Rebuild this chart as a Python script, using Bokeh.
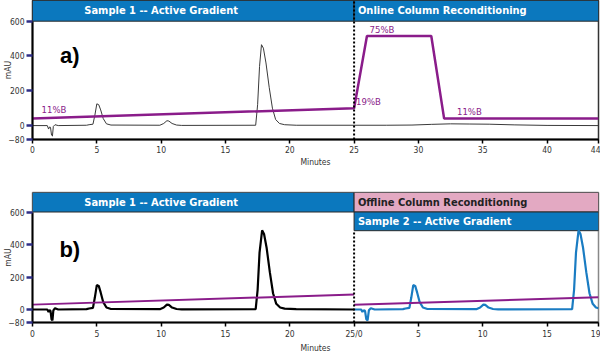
import numpy as np
from bokeh.plotting import figure
from bokeh.layouts import column
from bokeh.models import FixedTicker
from bokeh.core.properties import value
from bokeh.embed import file_html
from bokeh.resources import INLINE

# ---------------- data ----------------
# panel a: chromatogram (minutes, mAU)
a_time = [0, 1.15, 1.25, 1.32, 1.4, 1.48, 1.55, 1.62, 1.75, 2.0, 4.2, 4.4, 4.7, 4.85, 5.0, 5.15, 5.3, 5.5,
          5.75, 6.1, 9.9, 10.2, 10.45, 10.6, 10.85, 11.2, 11.6, 17.35, 17.5, 17.65, 17.8, 17.95, 18.15,
          18.4, 18.65, 18.9, 19.2, 19.6, 20.5, 25.0, 27.5, 29.5, 31.0, 32.5, 34.0, 35.5, 37.5, 40.0, 44.0]
a_mau = [0, 0, -20, -8, -10, -55, -60, -5, 5, 0, 2, 5, 8, 60, 125, 120, 90, 40, 10, 3, 2, 12, 28, 26, 12,
         3, 1, 2, 120, 340, 465, 445, 360, 220, 100, 35, 12, 5, 2, 2, 2, 3, 7, 10, 9, 8, 4, 1, 0]
# panel a: gradient (%B drawn on the mAU scale)
a_grad_time = [0, 25, 26, 31, 32, 44]
a_grad_mau = [40, 100, 515, 515, 40, 40]
a_grad_labels = ["11%B", "19%B", "75%B", "11%B"]

# panel b: sample 1 chromatogram
b1_time = [0, 1.15, 1.25, 1.32, 1.4, 1.48, 1.55, 1.62, 1.75, 2.0, 4.2, 4.4, 4.7, 4.85, 5.0, 5.15, 5.3, 5.5,
           5.75, 6.1, 9.9, 10.2, 10.45, 10.6, 10.85, 11.2, 11.6, 17.35, 17.5, 17.65, 17.85, 18.0, 18.2,
           18.45, 18.7, 18.95, 19.25, 19.6, 20.5, 25.0]
b1_mau = [0, 0, -15, -5, -8, -60, -67, -5, 8, 0, 2, 6, 10, 75, 150, 145, 105, 45, 12, 3, 2, 12, 30, 28, 12,
          3, 1, 2, 120, 350, 487, 465, 380, 230, 100, 35, 12, 5, 2, 0]
# panel b: sample 2 chromatogram (its own time, starts at 25 min of sample 1)
b2_time = [0, 0.55, 0.65, 0.75, 0.85, 0.95, 1.05, 1.15, 1.3, 1.6, 3.8, 4.0, 4.3, 4.45, 4.6, 4.75, 4.9, 5.1,
           5.35, 5.7, 9.5, 9.8, 10.05, 10.2, 10.45, 10.8, 11.2, 16.95, 17.1, 17.25, 17.45, 17.6, 17.8,
           18.05, 18.3, 18.55, 18.8, 19.0]
b2_mau = [0, 0, -15, -5, -8, -60, -67, -5, 8, 0, 2, 6, 10, 75, 150, 145, 105, 45, 12, 3, 2, 12, 30, 28,
          12, 3, 1, 2, 120, 350, 487, 465, 380, 230, 100, 35, 12, 8]
b1_grad_time = [0, 25]
b1_grad_mau = [30, 92]
b2_grad_time = [0, 19]
b2_grad_mau = [29, 76]
sample2_start = 25

# phases (header bars)
a_phase_names = ["Sample 1 -- Active Gradient", "Online Column Reconditioning"]
a_phase_start = [0, 25]
a_phase_end = [25, 44]
b_phase_names = ["Sample 1 -- Active Gradient", "Offline Column Reconditioning"]
b_phase_start = [0, 25]
b_phase_end = [25, 44]
b2_phase_names = ["Sample 2 -- Active Gradient"]
b2_phase_start = [25]
b2_phase_end = [44]

# ticks
y_ticks = [-80, 0, 200, 400, 600]
a_x_ticks = [0, 5, 10, 15, 20, 25, 30, 35, 40, 44]
b_x_ticks = [0, 5, 10, 15, 20, 25, 30, 35, 40, 44]
b_x_labels = ["0", "5", "10", "15", "20", "25/0", "5", "10", "15", "19"]

# ---------------- style ----------------
NARROW = "DejaVu Sans Condensed"
BLUE = "#0b78be"
PINK = "#e3a9c2"
PURPLE = "#8a1c8a"
EDGE = "#2a2a2a"


def style(p, xt, xlabels=None, outline="#333333"):
    p.xgrid.grid_line_color = None
    p.ygrid.grid_line_color = None
    p.background_fill_color = "white"
    p.border_fill_color = "white"
    p.outline_line_color = outline
    p.outline_line_width = 1.5
    xa = p.xaxis[0]
    xa.ticker = FixedTicker(ticks=xt)
    if xlabels:
        xa.major_label_overrides = {t: l for t, l in zip(xt, xlabels)}
    xa.axis_line_width = 2
    xa.axis_line_color = "black"
    xa.major_tick_in = 0
    xa.major_tick_out = 4
    xa.major_tick_line_width = 1.5
    xa.minor_tick_line_color = None
    xa.major_label_text_font = NARROW
    xa.major_label_text_font_size = "8.5px"
    xa.major_label_text_color = "#333333"
    xa.major_label_standoff = 2
    xa.axis_label = "Minutes"
    xa.axis_label_text_font = NARROW
    xa.axis_label_text_font_size = "8.5px"
    xa.axis_label_text_font_style = "normal"
    xa.axis_label_text_color = "#333333"
    xa.axis_label_standoff = 1
    ya = p.yaxis[0]
    ya.ticker = FixedTicker(ticks=y_ticks)
    ya.major_label_overrides = {-80: "\u221280"}
    ya.bounds = (-80, 600)
    ya.axis_line_width = 2
    ya.axis_line_color = "black"
    ya.major_tick_in = 0
    ya.major_tick_out = 6
    ya.major_tick_line_width = 2.5
    ya.major_tick_line_color = "#2e2e86"
    ya.minor_tick_line_color = None
    ya.major_label_text_font = NARROW
    ya.major_label_text_font_size = "8.5px"
    ya.major_label_text_color = "#333333"
    ya.major_label_standoff = 2
    ya.axis_label = "mAU"
    ya.axis_label_text_font = NARROW
    ya.axis_label_text_font_size = "8.5px"
    ya.axis_label_text_font_style = "normal"
    ya.axis_label_text_color = "#333333"
    ya.axis_label_standoff = -8


def header(p, names, start, end, bottom, top, fill, tcolor, centered):
    p.quad(left=start, right=end, bottom=[bottom] * len(start), top=[top] * len(start),
           fill_color=fill, line_color=EDGE, line_width=1)
    for n, s, e in zip(names, start, end):
        if centered and s == 0:
            p.text(x=[10], y=[(bottom + top) / 2], text=[n], text_align="center", text_baseline="middle",
                   text_font=value(NARROW), text_font_style="bold", text_font_size="11px", text_color=tcolor)
        else:
            p.text(x=[s + 0.3], y=[(bottom + top) / 2], text=[n], text_align="left", text_baseline="middle",
                   text_font=value(NARROW), text_font_style="bold", text_font_size="11px", text_color=tcolor)


# ---------------- panel a ----------------
A_TOP = 719
pa = figure(width=600, height=172, x_range=(0, 44), y_range=(-80, A_TOP), output_backend="svg",
            toolbar_location=None, min_border_left=32, min_border_right=2, min_border_top=0,
            min_border_bottom=33)
style(pa, a_x_ticks)
header(pa, a_phase_names, a_phase_start, a_phase_end, 600, A_TOP, BLUE, "white", True)
pa.line(a_time, a_mau, line_color="#3a3a3a", line_width=1)
pa.line(a_grad_time, a_grad_mau, line_color=PURPLE, line_width=2.5)
pa.segment(x0=[a_phase_end[0]], y0=[-80], x1=[a_phase_end[0]], y1=[A_TOP], line_color="black",
           line_width=2, line_dash="2 2")
lab_x = [0.7, 25.15, 26.2, 33.0]
lab_y = [62, 104, 522, 47]
pa.text(x=lab_x, y=lab_y, text=a_grad_labels, text_font=value(NARROW), text_font_size="9.5px",
        text_color=PURPLE, text_baseline="bottom", text_align="left")
pa.text(x=[2.9], y=[403], text=["a)"], text_font=value("Liberation Sans"), text_font_style="bold",
        text_font_size="22px", text_color="black", text_align="center", text_baseline="middle")

# ---------------- panel b ----------------
B_TOP = 720
B_MID = 485
pb = figure(width=600, height=183, x_range=(0, 44), y_range=(-80, B_TOP), output_backend="svg",
            toolbar_location=None, min_border_left=32, min_border_right=2, min_border_top=20,
            min_border_bottom=30)
style(pb, b_x_ticks, b_x_labels, outline="#888888")
header(pb, b_phase_names[:1], b_phase_start[:1], b_phase_end[:1], 600, B_TOP, BLUE, "white", True)
header(pb, b_phase_names[1:], b_phase_start[1:], b_phase_end[1:], 600, B_TOP, PINK, "#222222", False)
header(pb, b2_phase_names, b2_phase_start, b2_phase_end, B_MID, 600, BLUE, "white", False)
pb.line(b1_time, b1_mau, line_color="black", line_width=2.2)
pb.line(np.array(b2_time) + sample2_start, b2_mau, line_color="#1a7cc2", line_width=2.2)
pb.line(b1_grad_time, b1_grad_mau, line_color=PURPLE, line_width=2)
pb.line(np.array(b2_grad_time) + sample2_start, b2_grad_mau, line_color=PURPLE, line_width=2)
pb.segment(x0=[sample2_start], y0=[-80], x1=[sample2_start], y1=[B_MID], line_color="black",
           line_width=2, line_dash="2 2")
pb.text(x=[2.9], y=[372], text=["b)"], text_font=value("Liberation Sans"), text_font_style="bold",
        text_font_size="22px", text_color="black", text_align="center", text_baseline="middle")

layout = column(pa, pb, spacing=0)
open("out.html", "w").write(file_html(layout, INLINE))
